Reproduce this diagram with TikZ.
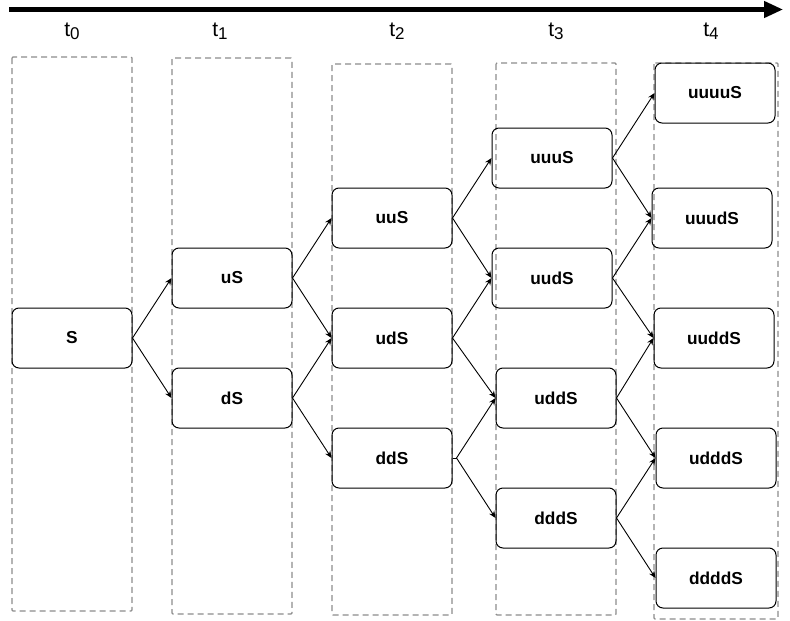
\documentclass[tikz,border=0pt]{standalone}
\usepackage{fontspec}
\setmainfont{Liberation Sans}
\usetikzlibrary{arrows.meta,positioning}
\tikzset{
  state/.style={draw,line width=1pt,rounded corners=7pt,minimum width=120pt,minimum height=60pt,inner sep=0pt,font=\fontsize{17.3}{19}\selectfont\bfseries},
  lane/.style={draw=black!45,dash pattern=on 6pt off 4pt,line width=1.3pt,rounded corners=1pt},
  arr/.style={-{Stealth[length=7pt,width=6pt]},line width=0.9pt},
  taxis/.style={-{Triangle[length=19pt,width=16pt]},line width=4.3pt},
  tlbl/.style={font=\fontsize{21}{23}\selectfont},
}
\newcommand{\tsub}[1]{\raisebox{-3pt}{\fontsize{17}{19}\selectfont#1}}

\begin{document}
\begin{tikzpicture}[x=1pt,y=-1pt]
 \useasboundingbox (0,0) rectangle (790,621);
 \coordinate (tbeg) at (9,9.5);
 \coordinate (tend) at (783,9.5);
 \draw[taxis] (tbeg) -- (tend);
 \node[tlbl] (l0) at (72,31){t\tsub{0}};
 \node[tlbl] (l1) at (220,31){t\tsub{1}};
 \node[tlbl] (l2) at (397,31){t\tsub{2}};
 \node[tlbl] (l3) at (556,31){t\tsub{3}};
 \node[tlbl] (l4) at (711,31){t\tsub{4}};

 \draw[lane] (12,57) rectangle (132,611);
 \draw[lane] (172,58) rectangle (292,614);
 \draw[lane] (332,64) rectangle (452,615);
 \draw[lane] (496,63) rectangle (616,615);
 \draw[lane] (654,63) rectangle (778,619);

 \node[state] (s) at (72,338){S};
 \node[state] (us) at (232,278){uS};
 \node[state] (ds) at (232,398){dS};
 \node[state] (uus) at (392,218){uuS};
 \node[state] (uds) at (392,338){udS};
 \node[state] (dds) at (392,458){ddS};
 \node[state] (uuus) at (552,158){uuuS};
 \node[state] (uuds) at (552,278){uudS};
 \node[state] (udds) at (556,398){uddS};
 \node[state] (ddds) at (556,518){dddS};
 \node[state] (uuuus) at (715,93){uuuuS};
 \node[state] (uuuds) at (712,218){uuudS};
 \node[state] (uudds) at (714,338){uuddS};
 \node[state] (uddds) at (716,458){udddS};
 \node[state] (dddds) at (716,578){ddddS};
 \coordinate (ddsout) at ([xshift=4pt]dds.east);

 \draw[arr] (s.east) -- (us.west);
 \draw[arr] (s.east) -- (ds.west);
 \draw[arr] (us.east) -- (uus.west);
 \draw[arr] (us.east) -- (uds.west);
 \draw[arr] (ds.east) -- (uds.west);
 \draw[arr] (ds.east) -- (dds.west);
 \draw[arr] (uus.east) -- (uuus.west);
 \draw[arr] (uus.east) -- (uuds.west);
 \draw[arr] (uds.east) -- (uuds.west);
 \draw[arr] (uds.east) -- (udds.west);
 \draw (dds.east) -- (ddsout);
 \draw[arr] (ddsout) -- (udds.west);
 \draw[arr] (ddsout) -- (ddds.west);
 \draw[arr] (uuus.east) -- (uuuus.west);
 \draw[arr] (uuus.east) -- (uuuds.west);
 \draw[arr] (uuds.east) -- (uuuds.west);
 \draw[arr] (uuds.east) -- (uudds.west);
 \draw[arr] (udds.east) -- (uudds.west);
 \draw[arr] (udds.east) -- (uddds.west);
 \draw[arr] (ddds.east) -- (uddds.west);
 \draw[arr] (ddds.east) -- (dddds.west);
\end{tikzpicture}
\end{document}
